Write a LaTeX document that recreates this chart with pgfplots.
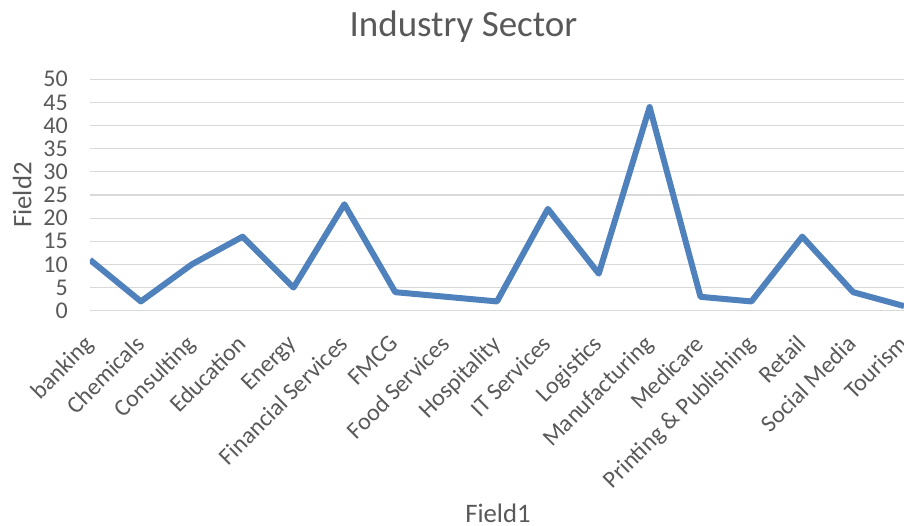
\documentclass[border=0pt]{standalone}
\usepackage{pgfplots}
\pgfplotsset{compat=1.18}
\usepackage{fontspec}
\setmainfont{Carlito}
\definecolor{txt}{HTML}{595959}
\definecolor{gridc}{HTML}{D9D9D9}
\definecolor{linec}{HTML}{4F81BD}
\begin{document}
\begin{tikzpicture}
\begin{axis}[
    at={(90pt,215.3pt)}, anchor=south west,
    scale only axis,
    width=814pt, height=231.4pt,
    xmin=0, xmax=16, ymin=0, ymax=50,
    axis x line*=bottom, axis y line*=left,
    x axis line style={draw=gridc, line width=1.2pt},
    y axis line style={draw=none},
    ymajorgrids,
    grid style={draw=gridc, line width=1.2pt},
    major tick length=0pt,
    tick style={draw=none},
    ytick={0,5,...,50},
    xtick={0,...,16},
    xticklabels={banking,Chemicals,Consulting,Education,Energy,Financial Services,FMCG,Food Services,Hospitality,IT Services,Logistics,Manufacturing,Medicare,Printing \& Publishing,Retail,Social Media,Tourism},
    /pgf/number format/assume math mode=true,
    ticklabel style={font=\fontsize{24}{28}\selectfont, text=txt},
    yticklabel style={anchor=east, inner sep=0pt, xshift=-22pt},
    xticklabel style={xshift=-7pt, yshift=-23pt, rotate=45, anchor=north east, inner sep=0pt},
    title={Industry Sector},
    title style={at={(axis description cs:0.4588,1.161)}, anchor=base, font=\fontsize{37}{44}\selectfont, text=txt},
    xlabel={Field1},
    xlabel style={at={(axis description cs:0.5012,-0.915)}, anchor=base, font=\fontsize{26.7}{32}\selectfont, text=txt},
    ylabel={Field2},
    ylabel style={at={(axis description cs:-0.0719,0.5)}, rotate=0, anchor=base, font=\fontsize{26.7}{32}\selectfont, text=txt},
]
\addplot[linec, line width=6pt, line join=round] coordinates {
    (0,11) (1,2) (2,10) (3,16) (4,5) (5,23) (6,4) (7,3) (8,2)
    (9,22) (10,8) (11,44) (12,3) (13,2) (14,16) (15,4) (16,1)
};
\end{axis}
\pgfresetboundingbox
\path[use as bounding box] (0pt,0pt) rectangle (904pt,526pt);
\end{tikzpicture}
\end{document}
